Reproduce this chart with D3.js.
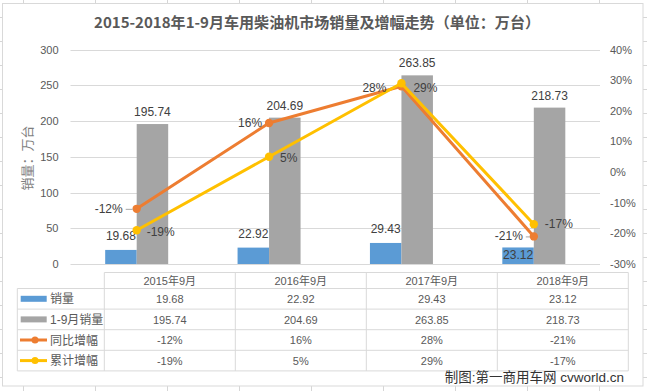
<!DOCTYPE html>
<html><head><meta charset="utf-8">
<script src="https://cdn.jsdelivr.net/npm/d3@7"></script>
<style>body{margin:0;background:#fff}svg{display:block}</style>
</head><body><svg id="c" width="647" height="391"></svg>
<script>
const categories = ["2015年9月","2016年9月","2017年9月","2018年9月"];
const monthly = [19.68, 22.92, 29.43, 23.12];
const cumulative = [195.74, 204.69, 263.85, 218.73];
const yoyGrowth = [-12, 16, 28, -21];
const cumGrowth = [-19, 5, 29, -17];
const leftTicks = [0, 50, 100, 150, 200, 250, 300];
const rightTicks = [-30, -20, -10, 0, 10, 20, 30, 40];
const seriesNames = ["销量", "1-9月销量", "同比增幅", "累计增幅"];
const titleText = "2015-2018年1-9月车用柴油机市场销量及增幅走势（单位：万台）";
const yTitle = "销量：万台";
const credit = "制图:第一商用车网 cvworld.cn";

const colors = ["#5b9bd5", "#a5a5a5", "#ed7d31", "#ffc000"];
const FONT = "'Liberation Sans', Arial, 'Noto Sans CJK SC', sans-serif";
const CJK = "'Noto Sans CJK SC', sans-serif";
const svg = d3.select("#c");
const W = 647, H = 391;

// spreadsheet background grid
const bg = svg.append("g");
d3.range(23.5, W, 72).forEach(x => bg.append("line").attr("x1", x).attr("x2", x).attr("y1", 0).attr("y2", H).attr("stroke", "#d6d6d6"));
d3.range(17.5, H, 24).forEach(y => bg.append("line").attr("x1", 0).attr("x2", W).attr("y1", y).attr("y2", y).attr("stroke", "#d6d6d6"));
svg.append("rect").attr("x", 2.5).attr("y", 3.5).attr("width", 640.5).attr("height", 382.5)
  .attr("fill", "#fff").attr("stroke", "#d9d9d9");

// title
svg.append("text").attr("x", 94).attr("y", 28).attr("textLength", 446).attr("lengthAdjust", "spacingAndGlyphs")
  .attr("font-family", CJK).attr("font-weight", "bold").attr("font-size", 15).attr("fill", "#595959").text(titleText);

// scales
const x = d3.scaleBand().domain(categories).range([70.5, 600]).padding(0);
const bw = x.bandwidth();
const xs = d3.scaleBand().domain([0, 1]).range([bw / 2 - 31.5, bw / 2 + 31.5]).padding(0);
const yL = d3.scaleLinear().domain([0, 300]).range([264, 49.5]);
const yR = d3.scaleLinear().domain([-30, 40]).range([264, 49.5]);
const cx = c => x(c) + bw / 2;

// gridlines
svg.append("g").selectAll("line").data(leftTicks).join("line")
  .attr("x1", 70.5).attr("x2", 600).attr("y1", d => Math.round(yL(d)) + 0.5).attr("y2", d => Math.round(yL(d)) + 0.5)
  .attr("stroke", "#d9d9d9");

// axes
const axL = svg.append("g").attr("transform", "translate(70.5,0)")
  .call(d3.axisLeft(yL).tickValues(leftTicks).tickSize(0).tickPadding(12));
const axR = svg.append("g").attr("transform", "translate(600,0)")
  .call(d3.axisRight(yR).tickValues(rightTicks).tickSize(0).tickPadding(10).tickFormat(d => d + "%"));
[axL, axR].forEach(a => {
  a.select(".domain").remove();
  a.selectAll("text").attr("font-family", FONT).attr("font-size", 11).attr("fill", "#595959");
});

// y title
svg.append("text").attr("transform", "translate(32,158) rotate(-90)").attr("text-anchor", "middle")
  .attr("font-family", CJK).attr("font-size", 13).attr("fill", "#7f7f7f").text(yTitle);

// bars
const barData = [monthly, cumulative];
barData.forEach((vals, s) => {
  svg.append("g").selectAll("rect").data(categories).join("rect")
    .attr("x", (c) => x(c) + xs(s)).attr("width", xs.bandwidth())
    .attr("y", (c, i) => yL(vals[i])).attr("height", (c, i) => yL(0) - yL(vals[i]))
    .attr("fill", colors[s]);
});

// bar labels
const barLabelDy = [[-10, -10, -10, 12], [-8, -8, -8, -8]];
barData.forEach((vals, s) => {
  svg.append("g").selectAll("text").data(categories).join("text")
    .attr("x", c => x(c) + xs(s) + xs.bandwidth() / 2)
    .attr("y", (c, i) => yL(vals[i]) + barLabelDy[s][i])
    .attr("text-anchor", "middle").attr("font-family", FONT).attr("font-size", 12).attr("fill", "#404040")
    .text((c, i) => vals[i].toFixed(2));
});

// lines
const lineData = [yoyGrowth, cumGrowth];
lineData.forEach((vals, k) => {
  const line = d3.line().x((d, i) => cx(categories[i])).y(d => yR(d));
  svg.append("path").datum(vals).attr("d", line).attr("fill", "none")
    .attr("stroke", colors[k + 2]).attr("stroke-width", 3).attr("stroke-linejoin", "round");
  svg.append("g").selectAll("circle").data(vals).join("circle")
    .attr("cx", (d, i) => cx(categories[i])).attr("cy", d => yR(d)).attr("r", 4.2)
    .attr("fill", colors[k + 2]);
});

// line labels
const yoyDx = [-14, -7, -15, -11];
const yoyLeader = [true, false, false, true];
const cumDx = [10, 11, 12, 11];
const cumDy = [2, 1, 5, 0];
svg.append("g").selectAll("text").data(yoyGrowth).join("text")
  .attr("x", (d, i) => cx(categories[i]) + yoyDx[i]).attr("y", (d, i) => yR(d) + 4 + (i === 2 ? 2 : 0))
  .attr("text-anchor", "end").attr("font-family", FONT).attr("font-size", 12).attr("fill", "#404040")
  .text(d => d + "%");
yoyGrowth.forEach((d, i) => {
  if (yoyLeader[i]) svg.append("line")
    .attr("x1", cx(categories[i]) + yoyDx[i] + 3).attr("x2", cx(categories[i]) - 4)
    .attr("y1", yR(d) + 0.5).attr("y2", yR(d) + 0.5).attr("stroke", "#a6a6a6");
});
svg.append("g").selectAll("text").data(cumGrowth).join("text")
  .attr("x", (d, i) => cx(categories[i]) + cumDx[i]).attr("y", (d, i) => yR(d) + 4 + cumDy[i])
  .attr("text-anchor", "start").attr("font-family", FONT).attr("font-size", 12).attr("fill", "#404040")
  .text(d => d + "%");

// data table
const tx = d3.scaleBand().domain(categories).range([104.3, 628.3]).padding(0);
const hdrTop = 272.5, rowTop = 288.5, rowH = 20.6;
const tableVals = [monthly.map(v => v.toFixed(2)), cumulative.map(v => v.toFixed(2)),
  yoyGrowth.map(v => v + "%"), cumGrowth.map(v => v + "%")];
const tg = svg.append("g").attr("stroke", "#d9d9d9").attr("fill", "none");
const tBottom = rowTop + rowH * 4;
tg.append("line").attr("x1", 104.3).attr("x2", 628.3).attr("y1", hdrTop).attr("y2", hdrTop);
d3.range(5).forEach(r => tg.append("line").attr("x1", 17.3).attr("x2", 628.3)
  .attr("y1", rowTop + r * rowH).attr("y2", rowTop + r * rowH));
tg.append("line").attr("x1", 17.3).attr("x2", 17.3).attr("y1", rowTop).attr("y2", tBottom);
categories.concat([null]).forEach((c, i) => {
  const xx = c ? tx(c) : tx.range()[1];
  tg.append("line").attr("x1", xx).attr("x2", xx).attr("y1", hdrTop).attr("y2", tBottom);
});
svg.append("g").selectAll("text").data(categories).join("text")
  .attr("x", c => tx(c) + tx.bandwidth() / 2).attr("y", hdrTop + 12)
  .attr("text-anchor", "middle").attr("font-family", FONT).attr("font-size", 11).attr("fill", "#595959").text(c => c);
tableVals.forEach((vals, r) => {
  svg.append("g").selectAll("text").data(vals).join("text")
    .attr("x", (v, i) => tx(categories[i]) + tx.bandwidth() / 2).attr("y", rowTop + r * rowH + 14.5)
    .attr("text-anchor", "middle").attr("font-family", FONT).attr("font-size", 11).attr("fill", "#595959").text(v => v);
});
// legend keys
seriesNames.forEach((name, r) => {
  const ym = rowTop + r * rowH + rowH / 2;
  if (r < 2) {
    svg.append("rect").attr("x", 20.7).attr("y", ym - 3).attr("width", 26).attr("height", 6).attr("fill", colors[r]);
  } else {
    svg.append("line").attr("x1", 20).attr("x2", 47).attr("y1", ym).attr("y2", ym)
      .attr("stroke", colors[r]).attr("stroke-width", 3);
    svg.append("circle").attr("cx", 35).attr("cy", ym).attr("r", 3.5).attr("fill", colors[r]);
  }
  svg.append("text").attr("x", 50).attr("y", ym + 4.5).attr("font-family", FONT).attr("font-size", 12)
    .attr("fill", "#595959").text(name);
});

// credit
svg.append("text").attr("x", 624).attr("y", 381.5).attr("text-anchor", "end")
  .attr("font-family", FONT).attr("font-size", 13.5).attr("fill", "#333").text(credit);
</script></body></html>
